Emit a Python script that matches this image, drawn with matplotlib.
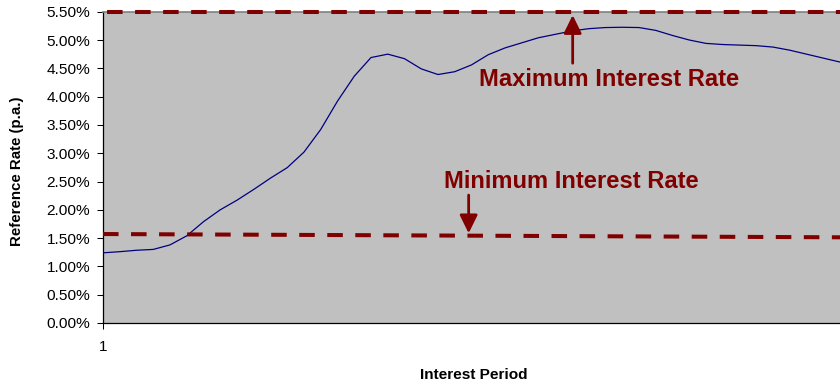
import matplotlib
matplotlib.use("Agg")
import matplotlib.pyplot as plt
from matplotlib.ticker import FuncFormatter

plt.rcParams['font.family'] = ['Liberation Sans', 'DejaVu Sans']

# ---- data ----
periods = list(range(1, 46))
reference_rate = [1.24, 1.26, 1.285, 1.30, 1.38, 1.54, 1.79, 2.00, 2.17, 2.36,
                  2.56, 2.745, 3.02, 3.42, 3.92, 4.36, 4.69, 4.75, 4.67, 4.49,
                  4.39, 4.44, 4.56, 4.74, 4.86, 4.95, 5.04, 5.10, 5.16, 5.20,
                  5.22, 5.225, 5.22, 5.17, 5.08, 5.00, 4.94, 4.92, 4.91, 4.90,
                  4.875, 4.82, 4.75, 4.68, 4.61]
max_periods = [1, 45]
max_rate = [5.5, 5.5]
min_periods = [1, 45]
min_rate = [1.572, 1.514]
y_ticks = [0.0, 0.5, 1.0, 1.5, 2.0, 2.5, 3.0, 3.5, 4.0, 4.5, 5.0, 5.5]
x_ticks = [1]
x_tick_labels = ["1"]

max_label = "Maximum Interest Rate"
min_label = "Minimum Interest Rate"

DARKRED = "#800000"

fig = plt.figure(figsize=(8.4, 3.82), dpi=100)
ax = fig.add_axes([103/840, 1-323/382, 1-103/840, (323-11.7)/382])
ax.set_facecolor("#C0C0C0")

ax.plot(periods, reference_rate, color="#000080", lw=0.9, zorder=3)

lw = 2.9
ax.plot(min_periods, min_rate, color=DARKRED, lw=lw,
        linestyle=(0, (3.86, 3.1)), zorder=4, dash_capstyle='butt')
ax.plot(max_periods, max_rate, color=DARKRED, lw=lw,
        linestyle=(5.96, (3.86, 3.1)), zorder=5, clip_on=False,
        dash_capstyle='butt')

ax.set_xlim(1, 45)
ax.set_ylim(0, 5.5)
ax.set_yticks(y_ticks)
ax.yaxis.set_major_formatter(FuncFormatter(lambda v, p: f"{v:.2f}%"))
ax.set_xticks(x_ticks)
ax.set_xticklabels(x_tick_labels)
ax.tick_params(axis='both', labelsize=11.1, length=4.3, width=0.75,
               colors='black', direction='out')
ax.tick_params(axis='y', pad=5.0)
ax.tick_params(axis='x', pad=8)

for s in ['left', 'bottom']:
    ax.spines[s].set_color('black')
    ax.spines[s].set_linewidth(0.9)
ax.spines['top'].set_color('#808080')
ax.spines['top'].set_linewidth(1.2)
ax.spines['right'].set_visible(False)

# annotations
arrow_kw = dict(arrowstyle='-|>,head_length=0.55,head_width=0.27',
                color=DARKRED, lw=2.0, mutation_scale=20,
                shrinkA=0, shrinkB=0)
ax.annotate("", xy=(29.04, 5.44), xytext=(29.04, 4.59), arrowprops=arrow_kw,
            zorder=6)
ax.text(31.19, 4.187, max_label, color=DARKRED, fontsize=17.1,
        fontweight='bold', ha='center', va='baseline', zorder=6)

ax.annotate("", xy=(22.83, 1.585), xytext=(22.83, 2.26), arrowprops=arrow_kw,
            zorder=6)
ax.text(28.98, 2.38, min_label, color=DARKRED, fontsize=17.1,
        fontweight='bold', ha='center', va='baseline', zorder=6)

fig.text(17.5/840, 1-171/382, "Reference Rate (p.a.)", rotation=90,
         fontsize=10.8, fontweight='bold', ha='center', va='center')
fig.text(474/840, 1-379.3/382, "Interest Period", fontsize=11.1,
         fontweight='bold', ha='center', va='baseline')

fig.savefig("out.png", dpi=100)
